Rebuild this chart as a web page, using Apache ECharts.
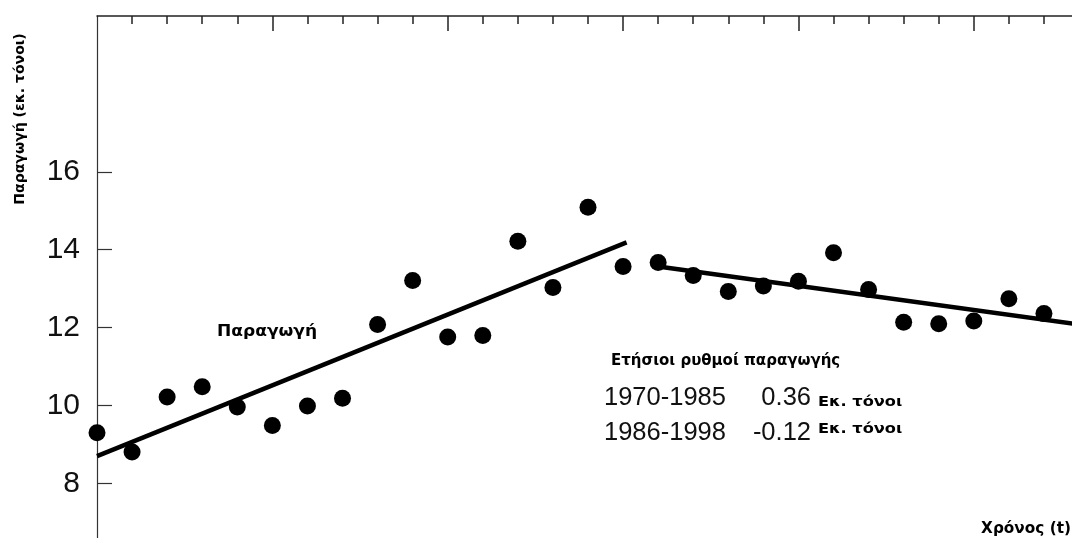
<!DOCTYPE html>
<html>
<head>
<meta charset="utf-8">
<script src="https://cdn.jsdelivr.net/npm/echarts@6/dist/echarts.min.js"></script>
<style>
html,body{margin:0;padding:0;background:#fff;}
#chart{width:1072px;height:538px;}
</style>
</head>
<body>
<div id="chart"></div>
<script>
// ---- data ----
const years = [1970,1971,1972,1973,1974,1975,1976,1977,1978,1979,1980,1981,1982,1983,1984,1985,
               1986,1987,1988,1989,1990,1991,1992,1993,1994,1995,1996,1997];
const production = [9.30,8.81,10.22,10.48,9.96,9.49,9.99,10.19,12.08,13.21,11.76,11.80,14.22,13.03,15.09,13.57,
                    13.67,13.34,12.93,13.07,13.19,13.92,12.98,12.14,12.10,12.17,12.74,12.36];
const trend1X = [1970, 1985.1];
const trend1Y = [8.70, 14.19];
const trend2X = [1986, 1998];
const trend2Y = [13.57, 12.08];
const yTickValues = [8, 10, 12, 14, 16];
const majorYearTicks = [1975, 1980, 1985, 1990, 1995];
const minorYearTicks = [1971,1972,1973,1974,1976,1977,1978,1979,1981,1982,1983,1984,1986,1987,1988,1989,1991,1992,1993,1994,1996,1997];
const yAxisTitle = 'Παραγωγή (εκ. τόνοι)';
const xAxisTitle = 'Χρόνος (t)';
const seriesLabel = 'Παραγωγή';
const rateTitle = 'Ετήσιοι ρυθμοί παραγωγής';
const ratePeriods = ['1970-1985', '1986-1998'];
const rateValues = ['0.36', '-0.12'];
const rateUnit = 'Εκ. τόνοι';

const X_MIN = 1970, X_MAX = 1997.8, Y_MIN = 6.6, Y_MAX = 20;

const chart = echarts.init(document.getElementById('chart'));
const boldFont = '"DejaVu Sans", Verdana, sans-serif';
const plainFont = '"Liberation Sans", Arial, sans-serif';

const pts = years.map((y, i) => [y, production[i]]);
const line1 = trend1X.map((x, i) => [x, trend1Y[i]]);
const line2 = trend2X.map((x, i) => [x, trend2Y[i]]);

function boldText(text, x, y, size, sx, align, rot) {
  return {
    type: 'text', x: x, y: y, rotation: rot || 0, scaleX: sx, scaleY: 1,
    style: { text: text, font: 'bold ' + size + 'px ' + boldFont, fill: '#000',
             align: align || 'left', verticalAlign: 'middle' }
  };
}
function plainText(text, x, y, align) {
  return {
    type: 'text', x: x, y: y,
    style: { text: text, font: '25.5px ' + plainFont, fill: '#111',
             align: align || 'left', verticalAlign: 'middle' }
  };
}

const option = {
  animation: false,
  backgroundColor: '#fff',
  grid: { left: 97, right: 0, top: 16, bottom: 0, containLabel: false },
  xAxis: [
    {
      type: 'value', position: 'top', min: X_MIN, max: X_MAX,
      axisLine: { show: true, onZero: false, lineStyle: { color: '#222', width: 1.5 } },
      axisTick: { show: true, inside: true, length: 8, customValues: minorYearTicks, lineStyle: { color: '#222', width: 1.5 } },
      axisLabel: { show: false },
      splitLine: { show: false }
    },
    {
      type: 'value', position: 'top', min: X_MIN, max: X_MAX,
      axisLine: { show: false },
      axisTick: { show: true, inside: true, length: 15, customValues: majorYearTicks, lineStyle: { color: '#222', width: 1.5 } },
      axisLabel: { show: false },
      splitLine: { show: false }
    }
  ],
  yAxis: {
    type: 'value', min: Y_MIN, max: Y_MAX,
    axisLine: { show: true, onZero: false, lineStyle: { color: '#333', width: 1.2 } },
    axisTick: { show: true, inside: true, length: 15, customValues: yTickValues, lineStyle: { color: '#333', width: 1.2 } },
    axisLabel: { show: true, customValues: yTickValues, margin: 17, color: '#111', fontSize: 30, fontFamily: plainFont },
    splitLine: { show: false }
  },
  series: [
    {
      type: 'line', data: line1, xAxisIndex: 0, symbol: 'none',
      lineStyle: { color: '#000', width: 4.5 }, z: 2
    },
    {
      type: 'line', data: line2, xAxisIndex: 0, symbol: 'none',
      lineStyle: { color: '#000', width: 4.5 }, z: 2
    },
    {
      type: 'scatter', data: pts, xAxisIndex: 0, symbol: 'circle', symbolSize: 17,
      itemStyle: { color: '#000', opacity: 1 }, z: 3
    }
  ],
  graphic: [
    boldText(yAxisTitle, 20, 119, 13.5, 1.04, 'center', Math.PI / 2),
    boldText(seriesLabel, 217, 332, 15.5, 1.1, 'left'),
    boldText(rateTitle, 611, 361, 15, 1.0, 'left'),
    plainText(ratePeriods[0], 604, 398, 'left'),
    plainText(rateValues[0], 811, 398, 'right'),
    boldText(rateUnit, 818, 402, 13.5, 1.2, 'left'),
    plainText(ratePeriods[1], 604, 433, 'left'),
    plainText(rateValues[1], 811, 433, 'right'),
    boldText(rateUnit, 818, 429, 13.5, 1.2, 'left'),
    boldText(xAxisTitle, 1071, 529, 15, 1.02, 'right')
  ]
};
chart.setOption(option);
</script>
</body>
</html>
